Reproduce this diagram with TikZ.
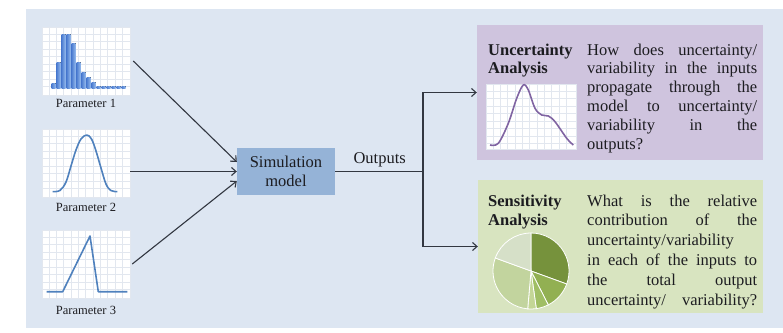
\documentclass[tikz,border=0pt]{standalone}
\usepackage{fontspec}
\setmainfont{Liberation Serif}
\usetikzlibrary{arrows.meta,calc}

\definecolor{bgblue}{RGB}{221,230,242}
\definecolor{simblue}{RGB}{149,179,215}
\definecolor{uapurple}{RGB}{207,196,222}
\definecolor{sagreen}{RGB}{216,228,192}
\definecolor{lineblue}{RGB}{79,129,189}
\definecolor{barblue}{RGB}{80,128,210}
\definecolor{barlight}{RGB}{150,188,238}
\definecolor{linepurple}{RGB}{128,100,162}
\definecolor{gridgray}{RGB}{226,231,239}
\definecolor{arrowgray}{RGB}{50,55,65}
\definecolor{inkdark}{RGB}{28,28,32}
\definecolor{pieA}{RGB}{118,146,60}
\definecolor{pieB}{RGB}{146,176,82}
\definecolor{pieC}{RGB}{160,190,100}
\definecolor{pieD}{RGB}{196,214,150}
\definecolor{pieE}{RGB}{194,212,158}
\definecolor{pieF}{RGB}{214,224,200}

\newcommand\bodyfont{\fontsize{16.5}{18.8}\selectfont}
\newcommand\smallfont{\fontsize{12.5}{14}\selectfont}
% one justified line of a text column
\newcommand\jline[1]{\hbox to 170pt{#1}}
% light grid over a chart frame
\newcommand\chartgridlines[1]{%
  \foreach \i in {1,...,11}{\draw[gridline] ([xshift=\i*7.33pt]#1.north west) -- ([xshift=\i*7.33pt]#1.south west);}
  \foreach \j in {1,...,8}{\draw[gridline] ([yshift=-\j*7.5pt]#1.north west) -- ([yshift=-\j*7.5pt]#1.north east);}}

\begin{document}
\begin{tikzpicture}[x=1pt,y=-1pt,
  font=\bodyfont, text=inkdark,
  chart/.style={draw=gridgray, line width=0.5pt, fill=white, inner sep=0pt, minimum width=88pt, minimum height=68pt},
  gridline/.style={draw=gridgray, line width=0.6pt},
  conn/.style={draw=arrowgray, line width=1.1pt, -{Straight Barb[length=4.5pt,width=8pt]}},
  plain/.style={draw=arrowgray, line width=1.1pt},
  simbox/.style={fill=simblue, inner sep=0pt, minimum width=98pt, minimum height=47pt, align=center},
  panel/.style={inner sep=0pt},
  curveblue/.style={draw=lineblue, line width=1.6pt, line join=round},
  curvepurple/.style={draw=linepurple, line width=1.6pt, line join=round},
  bar/.style={left color=barblue, right color=barlight, draw=none},
  slice/.style={draw=white, line width=0.8pt},
  plabel/.style={anchor=base, font=\smallfont}]

\useasboundingbox (0,0) rectangle (783,332);
\fill[bgblue] (26,9) rectangle (783,328);

% input distributions
\node[chart] (p1) at (86,61) {};
\chartgridlines{p1}
\foreach \h [count=\k from 0] in {5,26,54,54,45,26,16,11,6,2,2,2,2,2,2}
  \fill[bar] (51.7+5*\k,88) rectangle (55.7+5*\k,88-\h);
\node[plabel] (l1) at (86,107.3) {Parameter 1};

\node[chart] (p2) at (86,163) {};
\chartgridlines{p2}
\draw[curveblue] plot[smooth, tension=0.6] coordinates
  {(52.7,191.6) (60,190.4) (66,182) (71,166) (76,150) (81,139) (86.7,135)
   (91.5,139) (96,151) (101,168) (106,184) (111,190.6) (117.3,191.6)};
\node[plabel] (l2) at (86,211) {Parameter 2};

\node[chart] (p3) at (86,264) {};
\chartgridlines{p3}
\draw[curveblue] (46.7,291.7) -- (62.7,291.7) -- (90,236) -- (98.3,291.7) -- (127.3,291.7);
\node[plabel] (l3) at (86,314) {Parameter 3};

% model
\node[simbox] (sim) at (286,171.5) {\fontsize{16.5}{17.4}\selectfont Simulation\\model};

\draw[conn] ([xshift=3pt]p1.east) -- ([yshift=9.5pt]sim.west);
\draw[conn] (p2.east |- sim.west) -- (sim.west);
\draw[conn] ([xshift=2pt]p3.east) -- ([yshift=-9.5pt]sim.west);

% output panels
\node[panel, fill=uapurple, minimum width=286pt, minimum height=135pt] (ua) at (620,92.5) {};
\node[panel, fill=sagreen, minimum width=285pt, minimum height=133pt] (sa) at (620.5,246.5) {};

\node[anchor=base west] (outlbl) at (350,163.3) {Outputs};
\coordinate (split) at (423,171.5);
\draw[plain] (sim.east) -- (split);
\draw[conn] (split) |- (ua.west);
\draw[conn] (split) |- (sa.west);

% uncertainty analysis
\node[anchor=base west, inner sep=0pt] (uatitle) at (488,55)
  {\vtop{\baselineskip=18.8pt\hbox{\bfseries Uncertainty}\hbox{\bfseries Analysis}}};
\node[anchor=base west, inner sep=0pt] (uatext) at (587,55)
  {\vtop{\baselineskip=18.8pt
    \jline{How does uncertainty/}
    \jline{variability in the inputs}
    \jline{propagate through the}
    \jline{model to uncertainty/}
    \jline{variability in the}
    \hbox{outputs?}}};
\node[chart, minimum width=90pt, minimum height=65pt] (uc) at (531,116.5) {};
\chartgridlines{uc}
\draw[curvepurple] plot[smooth, tension=0.55] coordinates
  {(490,145) (498.3,143.3) (508.3,123.3) (516.7,98.3) (523.3,85) (528.3,90)
   (535,108.3) (541.7,115) (548.3,116) (555,121.7) (566.7,138.3) (573.3,145)};

% sensitivity analysis
\node[anchor=base west, inner sep=0pt] (satitle) at (488,206)
  {\vtop{\baselineskip=19.2pt\hbox{\bfseries Sensitivity}\hbox{\bfseries Analysis}}};
\node[anchor=base west, inner sep=0pt] (satext) at (587,206)
  {\vtop{\baselineskip=19.8pt
    \jline{What is the relative}
    \jline{contribution of the}
    \hbox{uncertainty/variability}
    \jline{in each of the inputs to}
    \jline{the total output}
    \jline{uncertainty/ variability?}}};
\coordinate (piec) at (531,271);
\begin{scope}[shift={(piec)}, x=1pt, y=1pt]
  \filldraw[slice, fill=pieA] (0,0) -- (90:38) arc[start angle=90, end angle=-20, radius=38] -- cycle;
  \filldraw[slice, fill=pieB] (0,0) -- (-20:38) arc[start angle=-20, end angle=-63, radius=38] -- cycle;
  \filldraw[slice, fill=pieC] (0,0) -- (-63:38) arc[start angle=-63, end angle=-82, radius=38] -- cycle;
  \filldraw[slice, fill=pieD] (0,0) -- (-82:38) arc[start angle=-82, end angle=-95, radius=38] -- cycle;
  \filldraw[slice, fill=pieE] (0,0) -- (-95:38) arc[start angle=-95, end angle=-200, radius=38] -- cycle;
  \filldraw[slice, fill=pieF] (0,0) -- (160:38) arc[start angle=160, end angle=90, radius=38] -- cycle;
\end{scope}
\end{tikzpicture}
\end{document}
